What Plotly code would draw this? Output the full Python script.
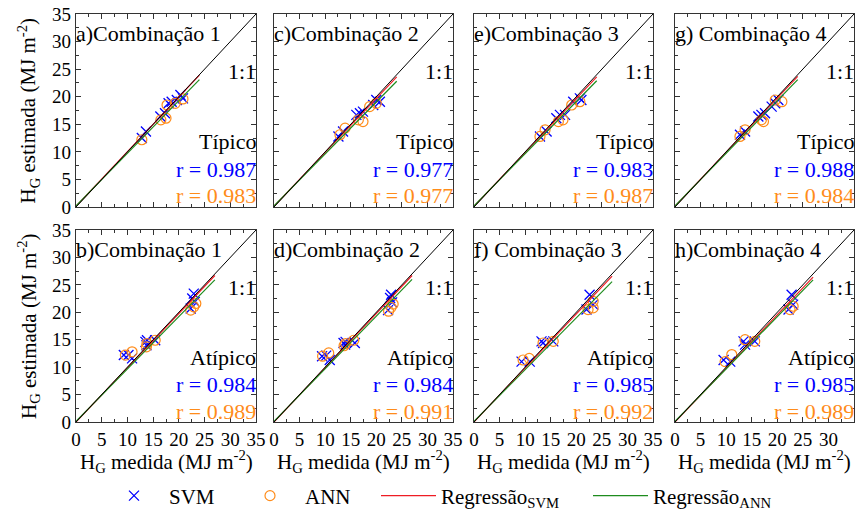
import plotly.graph_objects as go

# ---------------- data ----------------
panel_labels = ["a)Combinação 1", "c)Combinação 2", "e)Combinação 3", "g) Combinação 4",
                "b)Combinação 1", "d)Combinação 2", "f) Combinação 3", "h)Combinação 4"]
day_type = ["Típico", "Típico", "Típico", "Típico", "Atípico", "Atípico", "Atípico", "Atípico"]
r_svm = ["0.987", "0.977", "0.983", "0.988", "0.984", "0.984", "0.985", "0.985"]
r_ann = ["0.983", "0.977", "0.987", "0.984", "0.989", "0.991", "0.992", "0.989"]

# SVM points (x = measured, y = estimated)
svm_x = [
    [12.8, 13.6, 16.4, 17.3, 18.0, 18.6, 19.6, 20.3, 20.8],
    [12.6, 13.5, 16.1, 16.8, 17.4, 19.4, 20.0, 20.7],
    [12.9, 14.2, 16.1, 16.8, 17.8, 19.4, 20.7, 21.0],
    [12.7, 13.7, 16.3, 16.9, 17.6, 18.9, 19.6, 20.2],
    [9.3, 10.2, 10.9, 13.5, 13.7, 13.8, 15.4, 22.3, 22.6, 22.9, 23.1],
    [9.4, 10.2, 10.9, 13.6, 13.9, 14.0, 15.8, 22.3, 22.7, 22.9, 23.1],
    [9.3, 10.9, 13.2, 13.5, 15.5, 22.0, 22.6, 23.3],
    [9.5, 10.8, 13.4, 13.7, 15.6, 22.2, 22.8, 23.1],
]
svm_y = [
    [12.5, 13.7, 16.4, 17.0, 18.8, 19.1, 19.4, 20.3, 19.7],
    [12.8, 13.7, 16.7, 17.0, 17.3, 18.5, 19.4, 19.1],
    [12.8, 13.7, 16.1, 16.7, 16.7, 19.1, 19.7, 19.4],
    [13.1, 13.7, 16.4, 16.7, 17.0, 18.2, 18.8, 19.4],
    [12.2, 12.2, 11.6, 14.6, 14.0, 14.9, 14.9, 20.7, 22.5, 23.4, 21.9],
    [12.0, 12.1, 11.3, 14.4, 14.1, 14.6, 14.4, 20.4, 22.6, 23.2, 21.8],
    [11.0, 11.0, 14.7, 14.4, 14.7, 20.5, 23.2, 21.4],
    [11.3, 11.0, 14.7, 14.1, 14.7, 20.5, 23.2, 21.4],
]
# ANN points
ann_x = [
    [12.8, 16.5, 17.5, 17.7, 19.3, 20.8],
    [12.9, 13.9, 16.5, 17.4, 18.7, 20.0],
    [12.9, 13.9, 16.5, 17.4, 19.1, 20.7],
    [12.7, 13.7, 16.9, 17.3, 19.6, 20.9],
    [9.6, 10.9, 13.7, 13.8, 15.4, 22.3, 22.9, 23.3],
    [9.5, 10.7, 13.7, 14.0, 15.6, 22.4, 22.9, 23.3],
    [9.6, 10.8, 13.5, 15.5, 22.3, 23.3, 23.3],
    [9.8, 11.1, 13.7, 15.6, 22.5, 23.1],
]
ann_y = [
    [12.2, 15.8, 16.1, 18.5, 18.8, 19.6],
    [13.1, 14.3, 15.8, 15.5, 18.2, 18.8],
    [12.8, 14.0, 15.5, 15.8, 18.5, 19.1],
    [12.8, 14.0, 15.8, 15.5, 19.4, 19.1],
    [12.2, 12.8, 13.7, 14.3, 14.9, 20.4, 21.0, 21.6],
    [12.0, 12.6, 13.9, 14.3, 14.9, 20.2, 20.9, 21.5],
    [11.3, 11.6, 14.4, 14.7, 20.5, 20.8, 22.0],
    [11.0, 12.3, 15.0, 14.7, 20.5, 21.1],
]
# regression line end points (x from 0 to reg_x_end)
reg_x_end = [24.0, 24.0, 24.0, 24.0, 27.0, 27.0, 27.0, 27.0]
reg_svm_y0 = [0.1, 0.1, 0.1, 0.1, 0.0, 0.0, 0.0, 0.0]
reg_svm_y_end = [23.9, 23.6, 23.6, 23.7, 26.7, 26.7, 26.6, 26.4]
reg_ann_y0 = [0.2, 0.2, 0.2, 0.2, 0.1, 0.1, 0.1, 0.1]
reg_ann_y_end = [23.1, 22.8, 22.9, 23.1, 25.9, 26.0, 25.6, 25.9]
one_to_one = [0, 35]
ticks = [0, 5, 10, 15, 20, 25, 30, 35]
legend_names = ["SVM", "ANN", "Regressão<sub>SVM</sub>", "Regressão<sub>ANN</sub>"]

# ---------------- style ----------------
FONT = "Liberation Serif, Times New Roman, DejaVu Serif, serif"
BLUE = "#0000ff"
ORANGE = "#ff8c1a"
RED = "#ee1c24"
GREEN = "#1e8c1e"
W, H = 863, 517
col_px = [(76, 256), (274, 453), (474, 653), (675, 854)]
row_px = [(14, 207), (230, 422)]
legend_left_px = [99, 235, 376, 588]   # left edges of the 4 legend boxes
legend_itemw = [60, 60, 55, 55]
legend_refs = ["legend", "legend2", "legend3", "legend4"]

fig = go.Figure()
annotations = []
layout_axes = {}

for i in range(8):
    row, col = divmod(i, 4)
    n = i + 1
    xa = "x" if n == 1 else f"x{n}"
    ya = "y" if n == 1 else f"y{n}"
    first = (i == 0)

    fig.add_trace(go.Scatter(x=svm_x[i], y=svm_y[i], mode="markers", name=legend_names[0],
                             marker=dict(symbol="x-thin", size=10, line=dict(color=BLUE, width=1.3), color=BLUE),
                             xaxis=xa, yaxis=ya, showlegend=first, legend=legend_refs[0]))
    fig.add_trace(go.Scatter(x=ann_x[i], y=ann_y[i], mode="markers", name=legend_names[1],
                             marker=dict(symbol="circle-open", size=10, line=dict(color=ORANGE, width=1.2), color=ORANGE),
                             xaxis=xa, yaxis=ya, showlegend=first, legend=legend_refs[1]))
    fig.add_trace(go.Scatter(x=[0, reg_x_end[i]], y=[reg_svm_y0[i], reg_svm_y_end[i]], mode="lines",
                             name=legend_names[2], line=dict(color=RED, width=1.2),
                             xaxis=xa, yaxis=ya, showlegend=first, legend=legend_refs[2]))
    fig.add_trace(go.Scatter(x=[0, reg_x_end[i]], y=[reg_ann_y0[i], reg_ann_y_end[i]], mode="lines",
                             name=legend_names[3], line=dict(color=GREEN, width=1.2),
                             xaxis=xa, yaxis=ya, showlegend=first, legend=legend_refs[3]))
    fig.add_trace(go.Scatter(x=one_to_one, y=one_to_one, mode="lines", line=dict(color="black", width=1),
                             xaxis=xa, yaxis=ya, showlegend=False, hoverinfo="skip"))

    x0, x1 = col_px[col]
    y0, y1 = row_px[row]
    common = dict(range=[0, 35], tickmode="array", tickvals=ticks, ticks="inside", ticklen=5,
                  tickcolor="#333", showline=True, linecolor="#333", linewidth=1.2, mirror="ticks",
                  showgrid=False, zeroline=False, fixedrange=True, automargin=False,
                  minor=dict(ticks="inside", dtick=2.5, ticklen=3, tickcolor="#333"),
                  tickfont=dict(family=FONT, size=19, color="black"))
    layout_axes["xaxis" if n == 1 else f"xaxis{n}"] = dict(
        domain=[x0 / W, x1 / W], anchor=ya, showticklabels=(row == 1), **common)
    layout_axes["yaxis" if n == 1 else f"yaxis{n}"] = dict(
        domain=[1 - y1 / H, 1 - y0 / H], anchor=xa, showticklabels=(col == 0), **common)

    tf = dict(family=FONT, size=22, color="black")
    annotations.append(dict(x=0, y=31.4, xref=xa, yref=ya, text=panel_labels[i], showarrow=False,
                            xanchor="left", yanchor="middle", font=tf, xshift=-2))
    annotations.append(dict(x=35, y=24.6, xref=xa, yref=ya, text="1:1", showarrow=False,
                            xanchor="right", yanchor="middle", font=tf, xshift=2))
    annotations.append(dict(x=35, y=11.8, xref=xa, yref=ya, text=day_type[i], showarrow=False,
                            xanchor="right", yanchor="middle", font=tf, xshift=2))
    annotations.append(dict(x=35, y=6.8, xref=xa, yref=ya, text="r = " + r_svm[i], showarrow=False,
                            xanchor="right", yanchor="middle", font=dict(family=FONT, size=22, color=BLUE), xshift=2))
    annotations.append(dict(x=35, y=2.0, xref=xa, yref=ya, text="r = " + r_ann[i], showarrow=False,
                            xanchor="right", yanchor="middle", font=dict(family=FONT, size=22, color=ORANGE), xshift=2))

# axis titles
for row in range(2):
    yc = (row_px[row][0] + row_px[row][1]) / 2
    annotations.append(dict(x=28 / W, y=1 - yc / H, xref="paper", yref="paper",
                            text="H<sub>G</sub> estimada (MJ m<sup>-2</sup>)", textangle=-90,
                            showarrow=False, xanchor="center", yanchor="middle",
                            font=dict(family=FONT, size=21, color="black")))
for col in range(4):
    xc = (col_px[col][0] + col_px[col][1]) / 2
    annotations.append(dict(x=xc / W, y=1 - 461 / H, xref="paper", yref="paper",
                            text="H<sub>G</sub> medida (MJ m<sup>-2</sup>)",
                            showarrow=False, xanchor="center", yanchor="middle",
                            font=dict(family=FONT, size=21, color="black")))

legends = {}
for k, ref in enumerate(legend_refs):
    legends[ref] = dict(orientation="h", x=legend_left_px[k] / W, y=1 - 496 / H,
                        xanchor="left", yanchor="middle",
                        font=dict(family=FONT, size=21, color="black"), bgcolor="rgba(0,0,0,0)",
                        borderwidth=0, itemwidth=legend_itemw[k])

fig.update_layout(
    template="none",
    width=W, height=H, autosize=False,
    margin=dict(l=0, r=0, t=0, b=0, autoexpand=False),
    plot_bgcolor="white", paper_bgcolor="white",
    font=dict(family=FONT, size=18, color="black"),
    annotations=annotations,
    **legends,
    **layout_axes,
)

fig.write_html("out.html", config={"displayModeBar": False},
               post_script="document.body.style.margin='0';")
